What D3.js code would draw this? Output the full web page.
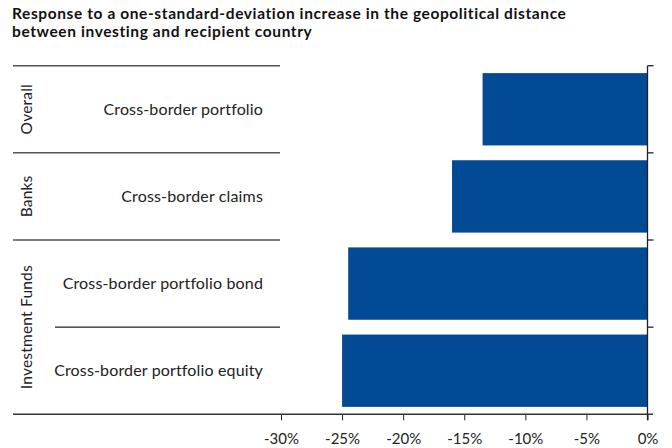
<!DOCTYPE html>
<html>
<head>
<meta charset="utf-8">
<script src="https://cdn.jsdelivr.net/npm/d3@7"></script>
<style>
  html, body { margin: 0; padding: 0; background: #fff; }
  svg { display: block; font-family: Lato, "Open Sans", sans-serif; }
</style>
</head>
<body>
<svg id="chart" width="672" height="448"></svg>
<script>
// Response to a one-standard-deviation increase in geopolitical distance (%)
const categories = [
  "Cross-border portfolio",
  "Cross-border claims",
  "Cross-border portfolio bond",
  "Cross-border portfolio equity"
];
const categoryGroup = ["Overall", "Banks", "Investment Funds", "Investment Funds"];
const groups = ["Overall", "Banks", "Investment Funds"];
const values = [-13.5, -16, -24.5, -25];
const xTicks = [-30, -25, -20, -15, -10, -5, 0];

const svg = d3.select("#chart");

const x = d3.scaleLinear().domain([-30, 0]).range([281, 647.5]);
const y = d3.scaleBand().domain(categories)
  .range([65.7, 414.3]).paddingInner(0.17).paddingOuter(0.085);
const step = y.step();
const halfGap = y.paddingInner() * step / 2;

// Title
const title = svg.append("text")
  .attr("font-size", 15.5).attr("font-weight", 700)
  .attr("letter-spacing", 0.6).attr("fill", "#111");
title.append("tspan").attr("x", 12).attr("y", 19)
  .text("Response to a one-standard-deviation increase in the geopolitical distance");
title.append("tspan").attr("x", 12).attr("y", 37)
  .text("between investing and recipient country");

// Bars
svg.append("g").selectAll("rect")
  .data(values)
  .join("rect")
  .attr("x", d => x(d))
  .attr("y", (d, i) => y(categories[i]))
  .attr("width", d => x(0) - x(d))
  .attr("height", y.bandwidth())
  .attr("fill", "#034a94");

// Band boundaries (top of each band, plus the bottom of the last)
const bounds = categories.map(c => y(c) - halfGap);
bounds[0] = y.range()[0];
const bottomY = y.range()[1];

// Left-hand table rules separating groups
const groupStart = groups.map(g => categoryGroup.indexOf(g));
const table = svg.append("g").attr("stroke", "#555").attr("stroke-width", 1.5);
groupStart.forEach(i => {
  table.append("line").attr("x1", 13).attr("x2", 280)
    .attr("y1", bounds[i]).attr("y2", bounds[i]);
});
// Sub-rule inside a group
categories.forEach((c, i) => {
  if (i > 0 && categoryGroup[i] === categoryGroup[i - 1]) {
    svg.append("line").attr("x1", 55).attr("x2", 280)
      .attr("y1", bounds[i]).attr("y2", bounds[i])
      .attr("stroke", "#222").attr("stroke-width", 1.2);
  }
});

// Category labels
svg.append("g").selectAll("text")
  .data(categories)
  .join("text")
  .attr("x", 263)
  .attr("y", d => y(d) + y.bandwidth() / 2)
  .attr("dy", "0.35em")
  .attr("text-anchor", "end")
  .attr("font-size", 16)
  .attr("letter-spacing", 0.15)
  .attr("fill", "#222")
  .text(d => d);

// Group labels, rotated
groups.forEach(g => {
  const idx = categories.filter((c, i) => categoryGroup[i] === g);
  const top = y(idx[0]) - halfGap;
  const bot = y(idx[idx.length - 1]) + y.bandwidth() + halfGap;
  const cy = (top + bot) / 2;
  svg.append("text")
    .attr("transform", `translate(27,${cy}) rotate(-90)`)
    .attr("dy", "0.35em")
    .attr("text-anchor", "middle")
    .attr("font-size", 15.5)
    .attr("letter-spacing", 0.2)
    .attr("fill", "#222")
    .text(g);
});

// Bottom axis
const xAxis = svg.append("g")
  .attr("transform", `translate(0,${bottomY})`)
  .call(d3.axisBottom(x).tickValues(xTicks).tickFormat(d => `${d}%`)
    .tickSize(6).tickPadding(13));
xAxis.select(".domain").remove();
xAxis.selectAll(".tick line").attr("stroke", "#222");
xAxis.selectAll(".tick text")
  .attr("font-size", 15).attr("fill", "#222")
  .attr("font-family", "Lato, 'Open Sans', sans-serif");
svg.append("line")
  .attr("x1", 13).attr("x2", 653)
  .attr("y1", bottomY).attr("y2", bottomY)
  .attr("stroke", "#333").attr("stroke-width", 1.5);

// Right-hand category axis at zero
svg.append("line")
  .attr("x1", x(0)).attr("x2", x(0))
  .attr("y1", bounds[0]).attr("y2", bottomY + 6)
  .attr("stroke", "#222").attr("stroke-width", 1.3);
svg.append("g").selectAll("line")
  .data(bounds)
  .join("line")
  .attr("x1", x(0)).attr("x2", x(0) + 6)
  .attr("y1", d => d).attr("y2", d => d)
  .attr("stroke", "#222").attr("stroke-width", 1.3);
</script>
</body>
</html>
